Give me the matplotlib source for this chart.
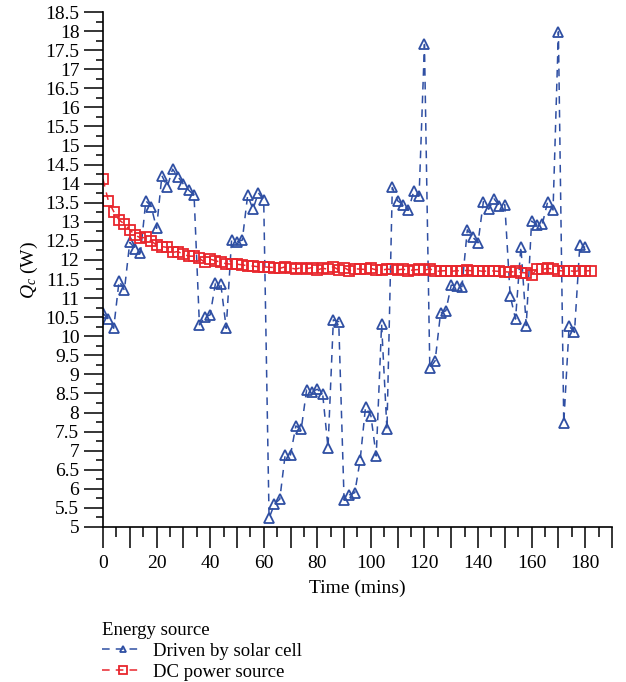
import numpy as np
import matplotlib
matplotlib.use('Agg')
import matplotlib.pyplot as plt
from matplotlib.ticker import MultipleLocator, FuncFormatter

plt.rcParams['font.family'] = ['Liberation Serif', 'DejaVu Serif']
plt.rcParams['mathtext.fontset'] = 'custom'
plt.rcParams['mathtext.rm'] = 'Liberation Serif'
plt.rcParams['mathtext.it'] = 'Liberation Serif:italic'

# time in minutes
t_solar = np.arange(0, 181, 2)
q_solar = [10.6, 10.45, 10.21, 11.45, 11.21, 12.46, 12.3, 12.19, 13.55, 13.4,
           12.83, 14.21, 13.92, 14.38, 14.18, 13.99, 13.83, 13.7, 10.3, 10.5,
           10.56, 11.39, 11.36, 10.21, 12.52, 12.48, 12.52, 13.69, 13.33, 13.76,
           13.57, 5.23, 5.6, 5.73, 6.89, 6.89, 7.65, 7.56, 8.59, 8.55,
           8.61, 8.49, 7.08, 10.43, 10.38, 5.71, 5.84, 5.9, 6.76, 8.14,
           7.92, 6.86, 10.31, 7.56, 13.9, 13.55, 13.45, 13.3, 13.8, 13.68,
           17.65, 9.16, 9.36, 10.6, 10.67, 11.34, 11.32, 11.3, 12.79, 12.6,
           12.45, 13.53, 13.33, 13.6, 13.42, 13.45, 11.06, 10.45, 12.35, 10.28,
           13.02, 12.92, 12.94, 13.53, 13.31, 17.98, 7.72, 10.27, 10.1, 12.39,
           12.33]

t_dc = np.arange(0, 183, 2)
q_dc = [14.12, 13.55, 13.27, 13.05, 12.94, 12.79, 12.65, 12.58, 12.59, 12.5,
        12.39, 12.35, 12.33, 12.2, 12.22, 12.15, 12.1, 12.1, 12.04, 11.94,
        12.02, 11.98, 11.94, 11.9, 11.89, 11.89, 11.87, 11.85, 11.84, 11.82,
        11.82, 11.81, 11.8, 11.78, 11.82, 11.79, 11.76, 11.8, 11.77, 11.8,
        11.74, 11.78, 11.76, 11.82, 11.74, 11.8, 11.72, 11.77, 11.76, 11.75,
        11.78, 11.74, 11.73, 11.76, 11.75, 11.74, 11.76, 11.72, 11.74, 11.75,
        11.73, 11.77, 11.7, 11.71, 11.72, 11.7, 11.72, 11.71, 11.73, 11.71,
        11.72, 11.7, 11.72, 11.71, 11.7, 11.69, 11.68, 11.7, 11.67, 11.66,
        11.6, 11.76, 11.75, 11.78, 11.76, 11.72, 11.71, 11.72, 11.7, 11.72,
        11.71, 11.72]

blue = '#2f4fa3'
red = '#e8262d'

fig = plt.figure(figsize=(6.26, 6.82), dpi=100)
ax = fig.add_axes([0.1645, 0.2273, 0.8131, 0.7551])

ax.plot(t_solar, q_solar, '--', color=blue, lw=1.1, dashes=(5, 4),
        marker='^', ms=6.5, mfc='none', mec=blue, mew=1.3,
        label='Driven by solar cell')
ax.plot(t_dc, q_dc, '--', color=red, lw=1.1, dashes=(5, 4),
        marker='s', ms=7.5, mfc='none', mec=red, mew=1.3,
        label='DC power source')

ax.set_xlim(0, 190)
ax.set_ylim(5, 18.5)
ax.spines['top'].set_visible(False)
ax.spines['right'].set_visible(False)
for s in ['left', 'bottom']:
    ax.spines[s].set_linewidth(1.2)

ax.xaxis.set_major_locator(MultipleLocator(10))
ax.xaxis.set_minor_locator(MultipleLocator(5))
ax.xaxis.set_major_formatter(FuncFormatter(lambda v, p: '%d' % v if v % 20 == 0 else ''))
ax.yaxis.set_major_locator(MultipleLocator(0.5))
ax.yaxis.set_minor_locator(MultipleLocator(0.25))
ax.yaxis.set_major_formatter(FuncFormatter(lambda v, p: '%g' % v))

ax.tick_params(axis='x', which='major', length=15, width=1.1, labelsize=14, pad=5)
ax.tick_params(axis='x', which='minor', length=7, width=1.1)
ax.tick_params(axis='y', which='major', length=14, width=1.1, labelsize=14, pad=3)
ax.tick_params(axis='y', which='minor', length=5, width=1.1)

ax.set_xlabel('Time (mins)', fontsize=14, labelpad=6)
ax.set_ylabel(r'$Q_c$ (W)', fontsize=14, labelpad=4)

leg = fig.legend(loc='upper left', bbox_to_anchor=(0.163, 0.088), frameon=False,
                 title='Energy source', title_fontsize=13.5, fontsize=13.5,
                 alignment='left', handlelength=2.2, handletextpad=0.5,
                 labelspacing=0.2, borderaxespad=0, borderpad=0,
                 markerscale=0.75)

fig.savefig('out.png', dpi=100)
